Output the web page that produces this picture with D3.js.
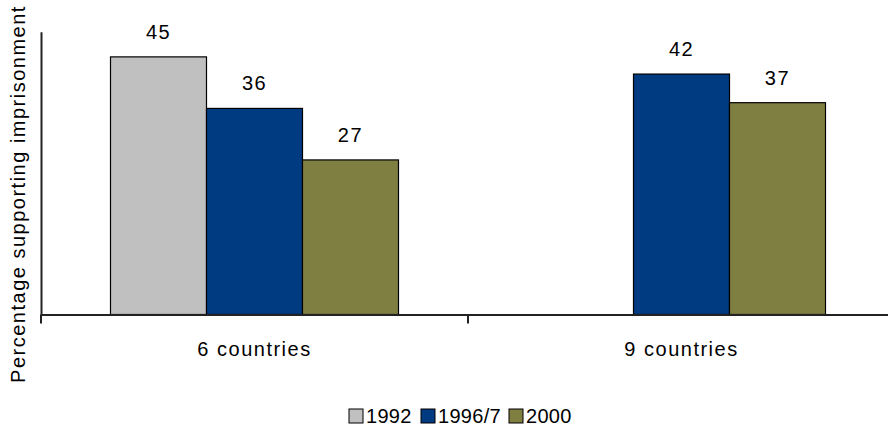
<!DOCTYPE html>
<html>
<head>
<meta charset="utf-8">
<script src="https://cdn.jsdelivr.net/npm/d3@7/dist/d3.min.js"></script>
<style>
  html, body { margin: 0; padding: 0; background: #fff; }
  svg text { font-family: "Liberation Sans", Arial, sans-serif; fill: #000; }
</style>
</head>
<body>
<svg id="chart" width="888" height="430"></svg>
<script>
// Data
const groups = ["6 countries", "9 countries"];
const seriesNames = ["1992", "1996/7", "2000"];
const values1992 = [45, null];
const values1996 = [36, 42];
const values2000 = [27, 37];
const seriesColors = ["#c0c0c0", "#003a80", "#7f7f41"];
const yLabel = "Percentage supporting imprisonment";

const seriesValues = [values1992, values1996, values2000];

const svg = d3.select("#chart");
const fontSize = 20;
const spacing = "1.5px";

const plot = { left: 41, right: 895, top: 31.7, bottom: 314.5 };

const x0 = d3.scaleBand().domain(groups).range([plot.left, plot.right]).paddingInner(0).paddingOuter(0);
const x1 = d3.scaleBand().domain(seriesNames).range([0, x0.bandwidth()]).paddingInner(0).paddingOuter(0.724);
const y = d3.scaleLinear().domain([0, 49.4]).range([plot.bottom, plot.top]);

// Bars with value labels
const g = svg.append("g");
groups.forEach((grp, gi) => {
  seriesNames.forEach((s, si) => {
    const v = seriesValues[si][gi];
    if (v == null) return;
    const bx = x0(grp) + x1(s);
    g.append("rect")
      .attr("x", bx)
      .attr("y", y(v))
      .attr("width", x1.bandwidth())
      .attr("height", y(0) - y(v))
      .attr("fill", seriesColors[si])
      .attr("stroke", "#000")
      .attr("stroke-width", 1.2);
    g.append("text")
      .attr("x", bx + x1.bandwidth() / 2)
      .attr("y", y(v) - 18)
      .attr("text-anchor", "middle")
      .attr("font-size", fontSize)
      .attr("letter-spacing", spacing)
      .text(v);
  });
});

// Y axis (line only)
const yAxis = svg.append("g")
  .attr("transform", `translate(${plot.left},0)`)
  .call(d3.axisLeft(y).tickValues([]).tickSizeOuter(0));
yAxis.select(".domain").attr("stroke", "#222").attr("stroke-width", 2);

// X axis with category labels centred in bands
const xAxis = svg.append("g")
  .attr("transform", `translate(0,${plot.bottom})`)
  .call(d3.axisBottom(x0).tickSize(0).tickSizeOuter(0).tickPadding(27));
xAxis.select(".domain").attr("stroke", "#222").attr("stroke-width", 2);
xAxis.selectAll("text")
  .attr("font-size", fontSize)
  .attr("letter-spacing", spacing)
  .attr("font-family", "Liberation Sans, Arial, sans-serif")
  .attr("fill", "#000");

// Boundary ticks between categories
const boundaries = groups.map(gname => x0(gname)).concat([plot.right]);
svg.append("g").selectAll("line").data(boundaries).join("line")
  .attr("x1", d => d).attr("x2", d => d)
  .attr("y1", plot.bottom).attr("y2", plot.bottom + 9)
  .attr("stroke", "#222").attr("stroke-width", 2);

// Y axis title
svg.append("text")
  .attr("transform", `translate(25,${(5 + 383) / 2}) rotate(-90)`)
  .attr("text-anchor", "middle")
  .attr("font-size", fontSize)
  .attr("letter-spacing", spacing)
  .text(yLabel);

// Legend
const legendItems = [
  { name: seriesNames[0], color: seriesColors[0], x: 349 },
  { name: seriesNames[1], color: seriesColors[1], x: 421 },
  { name: seriesNames[2], color: seriesColors[2], x: 509 }
];
const legend = svg.append("g");
legendItems.forEach(item => {
  legend.append("rect")
    .attr("x", item.x).attr("y", 409)
    .attr("width", 14).attr("height", 14)
    .attr("fill", item.color)
    .attr("stroke", "#000").attr("stroke-width", 1);
  legend.append("text")
    .attr("x", item.x + 17).attr("y", 423)
    .attr("font-size", 20)
    .attr("letter-spacing", "0.3px")
    .text(item.name);
});
</script>
</body>
</html>
